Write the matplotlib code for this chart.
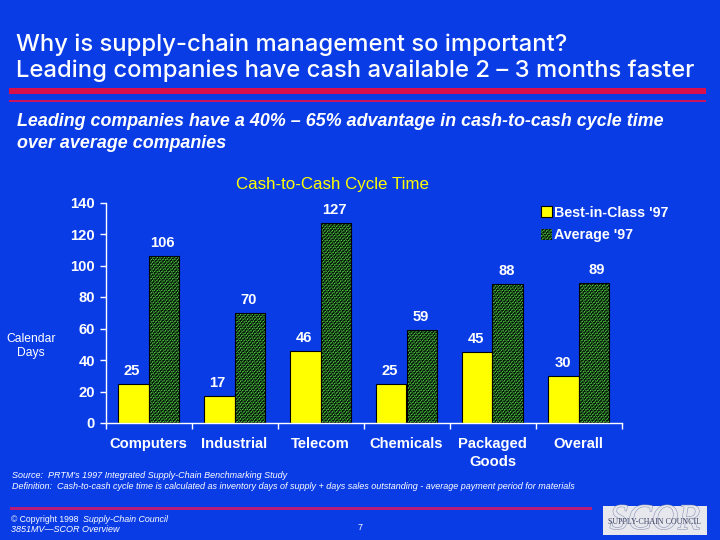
import numpy as np
import matplotlib
matplotlib.use("Agg")
import matplotlib.pyplot as plt
import matplotlib.patheffects as pe
from matplotlib.patches import Rectangle, Patch

categories = ["Computers", "Industrial", "Telecom", "Chemicals", "Packaged\nGoods", "Overall"]
best_in_class = [25, 17, 46, 25, 45, 30]
average = [106, 70, 127, 59, 88, 89]
series_names = ["Best-in-Class '97", "Average '97"]
y_ticks = [0, 20, 40, 60, 80, 100, 120, 140]
best_nudge = [-1, -1, -1, -1, -1, 0]
average_nudge = [-1, -1, -1, -1, -1, 2]

BG = "#0A3CE6"
RED = "#D80F4A"
YEL = "#FFFF00"
GREEN = "#4CC63C"
DARK = "#06140C"
HATCH = "/////////......."
plt.rcParams["font.family"] = ["Liberation Sans", "DejaVu Sans"]
plt.rcParams["hatch.linewidth"] = 0.4
plt.rcParams["hatch.color"] = GREEN

W, H = 720, 540
fig = plt.figure(figsize=(7.2, 5.4), dpi=100, facecolor=BG)

pg = fig.add_axes([0, 0, 1, 1], zorder=0)
pg.set_xlim(0, W); pg.set_ylim(H, 0); pg.axis("off")

def T(x, y, s, **k):
    k.setdefault("color", "white"); k.setdefault("va", "center")
    return pg.text(x, y, s, **k)

T(16, 45, "Why is supply-chain management so important?", fontsize=17.15, family="Inter", fontweight="medium")
T(16, 71, "Leading companies have cash available 2 – 3 months faster", fontsize=17.15, family="Inter", fontweight="medium")
pg.add_patch(Rectangle((9, 88), 697, 6, fc=RED, ec="none"))
pg.add_patch(Rectangle((9, 99.7), 697, 2.3, fc="#C8145C", ec="none"))
T(17, 122, "Leading companies have a 40% – 65% advantage in cash-to-cash cycle time",
  fontsize=12.9, style="italic", fontweight="bold")
T(17, 143, "over average companies", fontsize=12.9, style="italic", fontweight="bold")
T(332, 185, "Cash-to-Cash Cycle Time", color=YEL, fontsize=12.2, ha="center")
T(31, 339, "Calendar", fontsize=8.7, ha="center")
T(31, 353, "Days", fontsize=8.7, ha="center")

T(12, 476, "Source:  PRTM's 1997 Integrated Supply-Chain Benchmarking Study", fontsize=6.5, style="italic")
T(12, 486.5, "Definition:  Cash-to-cash cycle time is calculated as inventory days of supply + days sales outstanding - average payment period for materials",
  fontsize=6.5, style="italic")
pg.add_patch(Rectangle((10, 507), 582, 3, fc="#B81C78", ec="none"))
T(11, 519, "© Copyright 1998", fontsize=6.2)
T(83, 519, "Supply-Chain Council", fontsize=6.4, style="italic")
T(11, 530, "3851MV—SCOR Overview", fontsize=6.5, style="italic")
T(360, 528, "7", fontsize=6.5, ha="center")

logo = Rectangle((603, 506), 104, 29, fc="#E6E8EE", ec="none")
pg.add_patch(logo)
scor = T(655, 520.5, "SCOR", color="#E6E8EE", fontsize=26, family="Liberation Serif", style="italic", ha="center",
         path_effects=[pe.withStroke(linewidth=0.8, foreground="#8C94B4")])
T(655, 522, "SUPPLY-CHAIN COUNCIL", color="#3A3F60", fontsize=5.7, family="Liberation Serif", ha="center")

ax = fig.add_axes([105.5 / W, 1 - 423 / H, 516 / W, 220.5 / H], zorder=1)
ax.patch.set_visible(False)
x = np.arange(len(categories))
bw = 0.36
ax.bar(x - bw / 2, best_in_class, bw, color=YEL, edgecolor="black", linewidth=0.8, label=series_names[0])
ax.bar(x + bw / 2, average, bw, facecolor=DARK, edgecolor=GREEN, hatch=HATCH, linewidth=0, label=series_names[1])
ax.bar(x + bw / 2, average, bw, fill=False, edgecolor="black", linewidth=0.8)

for xs, vals, nudges in ((x - bw / 2, best_in_class, best_nudge), (x + bw / 2, average, average_nudge)):
    for xi, v, n in zip(xs, vals, nudges):
        ax.annotate(str(v), (xi, v), xytext=(n, 9.3), textcoords="offset points", ha="center", va="center",
                    color="white", fontweight="bold", fontsize=10.6)

ax.set_xlim(-0.5, len(categories) - 0.5)
ax.set_ylim(0, 140)
ax.set_yticks(y_ticks)
ax.set_xticks(x)
ax.set_xticklabels(categories, fontweight="bold", fontsize=10.6, color="white", linespacing=1.4)
ax.set_xticks(np.arange(len(categories) + 1) - 0.5, minor=True)
ax.tick_params(axis="x", which="major", length=0, pad=10)
ax.tick_params(axis="x", which="minor", length=4, width=1, color="white")
ax.tick_params(axis="y", length=4, width=1, color="white", labelcolor="white", pad=3.5)
for lab in ax.get_yticklabels():
    lab.set_fontweight("bold"); lab.set_fontsize(10.6)
for s in ("top", "right"):
    ax.spines[s].set_visible(False)
for s in ("left", "bottom"):
    ax.spines[s].set_color("white"); ax.spines[s].set_linewidth(1)

leg_handles = [Patch(facecolor=YEL, edgecolor="black", linewidth=0.8, label=series_names[0]),
               Patch(facecolor=DARK, edgecolor=GREEN, hatch=HATCH, linewidth=0, label=series_names[1])]
fig.legend(handles=leg_handles, loc="upper left", bbox_to_anchor=(538 / W, 1 - 203 / H), frameon=False,
           prop={"weight": "bold", "size": 10.3}, labelcolor="white", handlelength=0.75, handleheight=0.8,
           handletextpad=0.2, labelspacing=0.6, borderpad=0.2, borderaxespad=0)

fig.savefig("out.png", dpi=100, facecolor=BG)
